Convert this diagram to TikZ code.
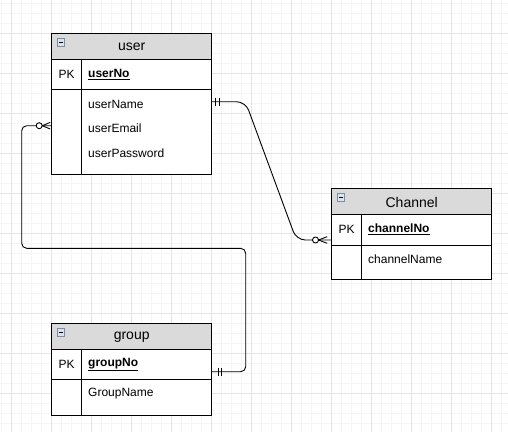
\documentclass[tikz,border=0pt]{standalone}
\usepackage{fontspec}
\setmainfont{Liberation Sans}
\definecolor{minorgrid}{HTML}{F5F5F5}
\definecolor{majorgrid}{HTML}{E4E4E4}
\definecolor{headfill}{HTML}{DADADA}
\definecolor{iconfill}{HTML}{DCE3EC}
\definecolor{iconline}{HTML}{7D8CA3}
\begin{document}
\begin{tikzpicture}[x=1pt,y=-1pt,
  minorline/.style={draw=minorgrid,line width=0.8pt},
  majorline/.style={draw=majorgrid,line width=0.9pt},
  tabhead/.style={draw=black,fill=headfill,line width=0.9pt,inner sep=0pt,outer sep=0pt,anchor=north west,minimum width=160pt,minimum height=25.7pt},
  tabrow/.style={draw=black,fill=white,line width=0.9pt,inner sep=0pt,outer sep=0pt,anchor=north west,minimum width=160pt},
  headtext/.style={font=\fontsize{14}{16}\selectfont,inner sep=0pt},
  pktext/.style={font=\fontsize{12}{14}\selectfont,inner sep=0pt},
  keytext/.style={font=\fontsize{12}{14}\selectfont\bfseries,inner sep=0pt,anchor=west},
  attrtext/.style={font=\fontsize{12}{14}\selectfont,inner sep=0pt,anchor=west},
  divline/.style={draw=black,line width=0.9pt},
  conn/.style={draw=black,line width=0.9pt},
  icon/.style={draw=iconline,fill=iconfill,line width=0.6pt,inner sep=0pt,outer sep=0pt,minimum size=7.5pt}
]
\useasboundingbox (0,0) rectangle (508,432);
\fill[white] (0,0) rectangle (508,432);
% grid
\foreach \i in {0,...,50} \draw[minorline] ({1.7+10*\i},0) -- ({1.7+10*\i},432);
\foreach \j in {0,...,43} \draw[minorline] (0,{3.3+10*\j}) -- (508,{3.3+10*\j});
\foreach \i in {0,...,12} \draw[majorline] ({11.7+40*\i},0) -- ({11.7+40*\i},432);
\foreach \j in {0,...,9} \draw[majorline] (0,{33.3+40*\j}) -- (508,{33.3+40*\j});

% ---------- user ----------
\node[tabhead] (uhead) at (51.7,33.3) {};
\node[tabrow,minimum height=30.3pt] (upk) at (51.7,59) {};
\node[tabrow,minimum height=85pt] (uattr) at (51.7,89.3) {};
\draw[divline] ([xshift=30pt]upk.north west) -- ([xshift=30pt]uattr.south west);
\node[icon] (uicon) at (61,42.5) {};
\draw[line width=0.9pt] ([xshift=1.7pt]uicon.west) -- ([xshift=-1.7pt]uicon.east);
\node[headtext] (utitle) at (131.7,47.2) {user};
\node[pktext] (upklab) at (66.7,74.2) {PK};
\node[keytext] (uno) at (88,74.2) {\underline{userNo}};
\node[attrtext] (uname) at (88,104) {userName};
\node[attrtext] (uemail) at (88,128) {userEmail};
\node[attrtext] (upass) at (88,153) {userPassword};

% ---------- Channel ----------
\node[tabhead] (chead) at (331.7,188.3) {};
\node[tabrow,minimum height=31pt] (cpk) at (331.7,214) {};
\node[tabrow,minimum height=34.3pt] (cattr) at (331.7,245) {};
\draw[divline] ([xshift=30pt]cpk.north west) -- ([xshift=30pt]cattr.south west);
\node[icon] (cicon) at (341,197.5) {};
\draw[line width=0.9pt] ([xshift=1.7pt]cicon.west) -- ([xshift=-1.7pt]cicon.east);
\node[headtext] (ctitle) at (411.7,202.3) {Channel};
\node[pktext] (cpklab) at (346.7,229.4) {PK};
\node[keytext] (cno) at (368,229.4) {\underline{channelNo}};
\node[attrtext] (cname) at (368,259) {channelName};

% ---------- group ----------
\node[tabhead] (ghead) at (51.7,323.3) {};
\node[tabrow,minimum height=30pt] (gpk) at (51.7,349) {};
\node[tabrow,minimum height=36pt] (gattr) at (51.7,379) {};
\draw[divline] ([xshift=30pt]gpk.north west) -- ([xshift=30pt]gattr.south west);
\node[icon] (gicon) at (61,332.5) {};
\draw[line width=0.9pt] ([xshift=1.7pt]gicon.west) -- ([xshift=-1.7pt]gicon.east);
\node[headtext] (gtitle) at (131.7,337.3) {group};
\node[pktext] (gpklab) at (66.7,364.2) {PK};
\node[keytext] (gno) at (88,364.2) {\underline{groupNo}};
\node[attrtext] (gname) at (88,393.3) {GroupName};

% ---------- connector user -> Channel ----------
\coordinate (ua) at ([yshift=-12.4pt]uattr.north east);
\coordinate (cb) at ([yshift=-26pt]cpk.north west);
\draw[conn,rounded corners=9pt] (ua) -- (245.5,101.7) -- (296.4,240) -- (cb);
\draw[conn] ([xshift=4pt,yshift=4pt]ua) -- ([xshift=4pt,yshift=-4pt]ua);
\draw[conn] ([xshift=7.3pt,yshift=4pt]ua) -- ([xshift=7.3pt,yshift=-4pt]ua);
\draw[conn,fill=white] ([xshift=-16.2pt]cb) circle[radius=3pt];
\draw[conn] ([xshift=-13.2pt]cb) -- ([xshift=-4.5pt,yshift=3.3pt]cb);
\draw[conn] ([xshift=-13.2pt]cb) -- ([xshift=-4.5pt,yshift=-3.3pt]cb);

% ---------- connector group -> user ----------
\coordinate (ga) at ([yshift=-22.7pt]gpk.north east);
\coordinate (ub) at ([yshift=-36.4pt]uattr.north west);
\draw[conn,rounded corners=5pt] (ga) -- (245.7,371.7) -- (245.7,248.3) -- (21.7,248.3) -- (21.7,125.7) -- (ub);
\draw[conn] ([xshift=6.6pt,yshift=3.8pt]ga) -- ([xshift=6.6pt,yshift=-3.8pt]ga);
\draw[conn] ([xshift=10pt,yshift=3.8pt]ga) -- ([xshift=10pt,yshift=-3.8pt]ga);
\draw[conn,fill=white] ([xshift=-12.5pt]ub) circle[radius=3pt];
\draw[conn] ([xshift=-9.5pt]ub) -- ([xshift=-1.5pt,yshift=3.3pt]ub);
\draw[conn] ([xshift=-9.5pt]ub) -- ([xshift=-1.5pt,yshift=-3.3pt]ub);
\end{tikzpicture}
\end{document}
